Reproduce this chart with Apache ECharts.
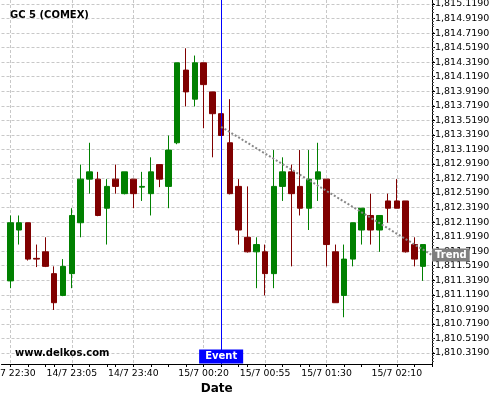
<!DOCTYPE html>
<html>
<head>
<meta charset="utf-8">
<script src="https://cdn.jsdelivr.net/npm/echarts@6/dist/echarts.min.js"></script>
<style>html,body{margin:0;padding:0;background:#fff;}#c{width:500px;height:400px;}</style>
</head>
<body>
<div id="c"></div>
<script>
// 5-minute time categories (first and last are empty padding slots)
const times = [
  '14/7 22:25','14/7 22:30','14/7 22:35','14/7 22:40','14/7 22:45','14/7 22:50','14/7 22:55',
  '14/7 23:00','14/7 23:05','14/7 23:10','14/7 23:15','14/7 23:20','14/7 23:25','14/7 23:30',
  '14/7 23:35','14/7 23:40','14/7 23:45','14/7 23:50','14/7 23:55',
  '15/7 00:00','15/7 00:05','15/7 00:10','15/7 00:15','15/7 00:20','15/7 00:25','15/7 00:30',
  '15/7 00:35','15/7 00:40','15/7 00:45','15/7 00:50','15/7 00:55','15/7 01:00','15/7 01:05',
  '15/7 01:10','15/7 01:15','15/7 01:20','15/7 01:25','15/7 01:30','15/7 01:35','15/7 01:40',
  '15/7 01:45','15/7 01:50','15/7 01:55','15/7 02:00','15/7 02:05','15/7 02:10','15/7 02:15',
  '15/7 02:20','15/7 02:25','15/7 02:30'
];
const open = [null,
  1811.31,1812.01,1812.11,1811.62,1811.71,1811.41,1811.11,1811.41,1812.11,1812.71,
  1812.71,1812.31,1812.71,1812.51,1812.71,1812.60,1812.51,1812.91,1812.61,1813.21,
  1814.21,1813.81,1814.31,1813.91,1813.61,1813.21,1812.61,1811.91,1811.71,1811.71,
  1811.41,1812.61,1812.81,1812.61,1812.31,1812.71,1812.71,1811.71,1811.11,1811.61,
  1812.01,1812.21,1812.01,1812.41,1812.41,1812.41,1811.81,1811.51, null];
const close = [null,
  1812.11,1812.11,1811.61,1811.61,1811.51,1811.01,1811.51,1812.21,1812.71,1812.81,
  1812.21,1812.61,1812.61,1812.81,1812.51,1812.61,1812.81,1812.71,1813.11,1814.31,
  1813.91,1814.31,1814.01,1813.61,1813.31,1812.51,1812.01,1811.71,1811.81,1811.41,
  1812.61,1812.81,1812.51,1812.31,1812.71,1812.81,1811.81,1811.01,1811.61,1812.11,
  1812.31,1812.01,1812.21,1812.31,1812.31,1811.71,1811.61,1811.81, null];
const low = [null,
  1811.21,1811.81,1811.59,1811.50,1811.50,1810.91,1811.10,1811.21,1811.91,1812.51,
  1812.20,1811.81,1812.51,1812.50,1812.31,1812.41,1812.21,1812.60,1812.31,1813.19,
  1813.71,1813.71,1813.41,1813.01,1813.31,1812.50,1811.81,1811.70,1811.21,1811.11,
  1811.21,1812.41,1811.51,1812.21,1812.01,1812.41,1811.51,1811.01,1810.81,1811.51,
  1811.81,1811.81,1811.71,1812.11,1812.31,1811.70,1811.51,1811.31, null];
const high = [null,
  1812.21,1812.21,1812.11,1811.81,1811.91,1811.51,1811.61,1812.31,1812.91,1813.21,
  1812.81,1812.71,1812.91,1812.81,1812.71,1812.81,1813.01,1812.91,1813.31,1814.31,
  1814.51,1814.41,1814.31,1813.91,1813.61,1813.81,1812.71,1812.61,1811.91,1811.81,
  1813.11,1813.01,1812.91,1813.11,1813.11,1813.21,1812.71,1811.81,1811.81,1812.11,
  1812.31,1812.51,1812.21,1812.51,1812.71,1812.41,1811.91,1811.81, null];
const tickLabels = ['14/7 22:30','14/7 23:05','14/7 23:40','15/7 00:20','15/7 00:55','15/7 01:30','15/7 02:10'];
const yTicks = [
  1810.319,1810.519,1810.719,1810.919,1811.119,1811.319,1811.519,1811.719,1811.919,
  1812.119,1812.319,1812.519,1812.719,1812.919,1813.119,1813.319,1813.519,1813.719,
  1813.919,1814.119,1814.319,1814.519,1814.719,1814.919,1815.119
];
const eventTime = '15/7 00:30';
const trendStart = ['15/7 00:30', 1813.43];
const trendEnd = ['15/7 02:30', 1811.665];

function fmt(v) {
  const s = (+v).toFixed(4);
  const p = s.split('.');
  return p[0].replace(/\B(?=(\d{3})+(?!\d))/g, ',') + '.' + p[1];
}

const labelIdx = tickLabels.map(t => times.indexOf(t));
const tickSet = new Set(labelIdx);
for (let k = 0; k < labelIdx.length; k++) {
  const a = labelIdx[k];
  const b = k + 1 < labelIdx.length ? labelIdx[k + 1] : a + 7;
  for (let q = 1; q < 4; q++) { const t = Math.round(a + (b - a) * q / 4); if (t < times.length) tickSet.add(t); }
}

const candles = times.map((t, i) => open[i] == null ? '-' : [open[i], close[i], low[i], high[i]]);

const FONT = 'DejaVu Sans';
const chart = echarts.init(document.getElementById('c'), null, {renderer: 'canvas'});
chart.setOption({
  animation: false,
  backgroundColor: '#fff',
  title: {
    text: 'GC 5 (COMEX)', left: 10, top: 10, padding: 0,
    textStyle: {fontSize: 10, fontWeight: 'bold', fontFamily: FONT, color: '#000'}
  },
  graphic: [{
    type: 'text', left: 15, top: 348, z: 100,
    style: {text: 'www.delkos.com', font: 'bold 10px "DejaVu Sans"', fill: '#000'}
  }],
  grid: {left: 1.5, right: 68, top: 0, bottom: 36, containLabel: false, outerBoundsMode: 'none'},
  xAxis: {
    type: 'category', data: times, boundaryGap: false,
    name: 'Date', nameLocation: 'middle', nameGap: 18,
    nameTextStyle: {fontSize: 12, fontWeight: 'bold', fontFamily: FONT, color: '#000'},
    axisLine: {show: true, lineStyle: {color: '#000', width: 1}},
    axisTick: {show: true, length: 3, interval: (i) => tickSet.has(i), lineStyle: {color: '#000'}},
    axisLabel: {
      show: true, interval: (i, v) => tickLabels.indexOf(v) >= 0, margin: 5,
      fontSize: 9.3, fontFamily: FONT, color: '#000', hideOverlap: false
    },
    splitLine: {show: true, interval: (i, v) => tickLabels.indexOf(v) >= 0,
      lineStyle: {color: '#c8c8c8', type: [3, 2], width: 1}}
  },
  yAxis: {
    type: 'value', position: 'right', scale: true,
    min: 1810.167, max: 1815.174, interval: 0.2,
    axisLine: {show: true, lineStyle: {color: '#000', width: 1}},
    axisTick: {show: true, length: 3, customValues: yTicks, lineStyle: {color: '#000'}},
    minorTick: {show: true, splitNumber: 5, length: 2, lineStyle: {color: '#555'}},
    axisLabel: {
      show: true, margin: 3, fontSize: 9.5, fontFamily: FONT, color: '#000',
      customValues: yTicks, formatter: fmt
    },
    splitLine: {show: true, lineStyle: {color: '#c8c8c8', type: [3, 2], width: 1}}
  },
  series: [{
    type: 'candlestick', data: candles, barWidth: 6, clip: false,
    itemStyle: {color: '#008000', color0: '#800000', borderColor: '#008000', borderColor0: '#800000', borderWidth: 1},
    markLine: {
      symbol: 'none', silent: true, animation: false, z: 10,
      data: [
        {
          xAxis: eventTime,
          lineStyle: {color: '#0000ff', width: 1, type: 'solid'},
          label: {show: true, position: 'start', formatter: 'Event', color: '#fff', backgroundColor: '#0000ff',
            fontWeight: 'bold', fontSize: 10, fontFamily: FONT, padding: [1, 6], lineHeight: 12, distance: 0, offset: [0, -14.5]}
        },
        [
          {coord: [trendStart[0], trendStart[1]],
           lineStyle: {color: '#888', width: 2, type: 'dotted'},
           label: {show: true, position: 'end', formatter: 'Trend', color: '#fff', backgroundColor: '#808080',
             fontWeight: 'bold', fontSize: 10, fontFamily: FONT, padding: [1, 3], lineHeight: 11, distance: 0}},
          {coord: [trendEnd[0], trendEnd[1]]}
        ]
      ]
    }
  }]
});
</script>
</body>
</html>
